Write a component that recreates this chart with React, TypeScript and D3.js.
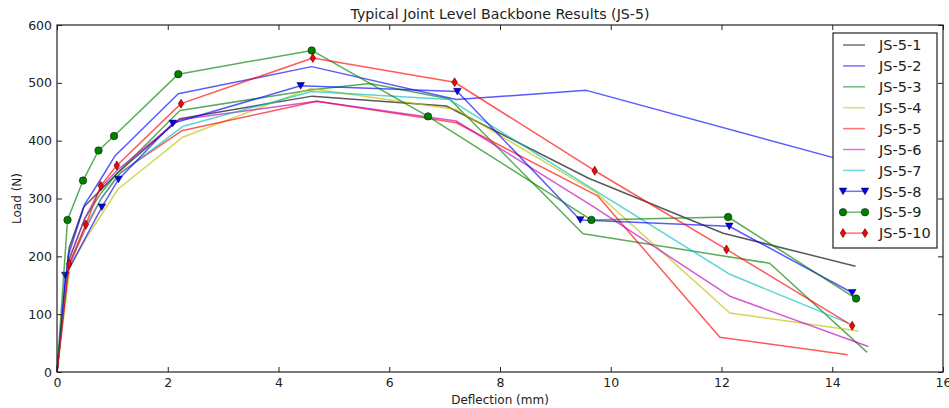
import React, { useEffect, useRef } from "react";
import * as d3 from "d3";

// deflection (mm) / load (N), one pair per specimen
const x1 = [0, 0.22, 0.48, 1.1, 2.22, 4.61, 7.03, 9.6, 12.03, 14.42];
const y1 = [0, 215, 285, 345, 438, 477, 460, 335, 240, 183];
const x2 = [0, 0.2, 0.5, 0.8, 1.05, 2.19, 4.6, 7.21, 9.56, 14.35];
const y2 = [0, 200, 290, 335, 374, 481, 528, 471, 487, 362];
const x3 = [0, 0.2, 0.5, 0.8, 1.1, 2.22, 4.61, 5.65, 7.09, 9.5, 12.87, 14.63];
const y3 = [0, 190, 265, 310, 345, 452, 488, 499, 472, 239, 188, 34];
const x4 = [0, 0.23, 0.53, 1.1, 2.27, 4.57, 7.21, 9.74, 12.15, 14.47];
const y4 = [0, 180, 232, 316, 406, 490, 454, 310, 102, 71];
const x5 = [0, 0.2, 0.5, 0.8, 1.15, 2.25, 4.69, 7.21, 9.77, 11.97, 14.28];
const y5 = [0, 180, 245, 300, 345, 417, 468, 431, 304, 60, 30];
const x6 = [0, 0.2, 0.5, 0.8, 1.1, 2.2, 4.69, 7.21, 9.7, 12.15, 14.65];
const y6 = [0, 190, 265, 320, 350, 436, 468, 434, 285, 131, 44];
const x7 = [0, 0.2, 0.5, 0.8, 1.1, 2.28, 4.6, 7.09, 9.7, 12.15, 14.28];
const y7 = [0, 180, 250, 300, 340, 425, 485, 471, 315, 169, 85];
const x8 = [0, 0.15, 0.81, 1.11, 2.09, 4.4, 7.23, 9.45, 12.14, 14.36];
const y8 = [0, 167, 285, 333, 430, 495, 485, 263, 252, 137];
const x9 = [0, 0.19, 0.47, 0.75, 1.03, 2.19, 4.6, 6.7, 9.65, 12.12, 14.43];
const y9 = [0, 263, 331, 383, 408, 515, 556, 442, 263, 268, 127];
const x10 = [0, 0.22, 0.52, 0.79, 1.08, 2.24, 4.62, 7.18, 9.71, 12.09, 14.36];
const y10 = [0, 187, 255, 322, 357, 464, 543, 501, 348, 212, 80];

const names = ["JS-5-1", "JS-5-2", "JS-5-3", "JS-5-4", "JS-5-5", "JS-5-6", "JS-5-7", "JS-5-8", "JS-5-9", "JS-5-10"];
const xs = [x1, x2, x3, x4, x5, x6, x7, x8, x9, x10];
const ys = [y1, y2, y3, y4, y5, y6, y7, y8, y9, y10];
const colors = ["#000000", "#0000ff", "#008000", "#bfbf00", "#ff0000", "#bf00bf", "#00bfbf", "#0000ff", "#008000", "#ff0000"];
const markers = [null, null, null, null, null, null, null, "tri", "circle", "diamond"];

const xTicks = [0, 2, 4, 6, 8, 10, 12, 14, 16];
const yTicks = [0, 100, 200, 300, 400, 500, 600];

const W = 949, H = 408;
const margin = { top: 25, right: 6, bottom: 36, left: 57 };
const FONT = "'DejaVu Sans', sans-serif";

function markerPath(kind) {
  if (kind === "tri") return "M-3.8,-3.2L3.8,-3.2L0,3.4Z";
  if (kind === "diamond") return "M0,-4.5L2.8,0L0,4.5L-2.8,0Z";
  return d3.symbol(d3.symbolCircle, 44)();
}

function drawMarker(g, kind, color, cx, cy) {
  g.append("path")
    .attr("d", markerPath(kind))
    .attr("transform", `translate(${cx},${cy})`)
    .attr("fill", color)
    .attr("stroke", "#000")
    .attr("stroke-width", 0.5);
}

const App = () => {
  const ref = useRef(null);

  useEffect(() => {
    const svg = d3.select(ref.current);
    svg.selectAll("*").remove();
    const width = W - margin.left - margin.right;
    const height = H - margin.top - margin.bottom;

    const xScale = d3.scaleLinear().domain([0, 16]).range([0, width]);
    const yScale = d3.scaleLinear().domain([0, 600]).range([height, 0]);

    const g = svg.append("g").attr("transform", `translate(${margin.left},${margin.top})`);

    g.append("rect").attr("width", width).attr("height", height).attr("fill", "#fff");

    const line = d3.line().x(d => xScale(d[0])).y(d => yScale(d[1]));

    names.forEach((n, i) => {
      const pts = xs[i].map((x, j) => [x, ys[i][j]]);
      g.append("path")
        .attr("d", line(pts))
        .attr("fill", "none")
        .attr("stroke", colors[i])
        .attr("stroke-opacity", 0.65)
        .attr("stroke-width", 1.5)
        .attr("stroke-linejoin", "round");
      if (markers[i]) {
        pts.slice(1).forEach(p => drawMarker(g, markers[i], colors[i], xScale(p[0]), yScale(p[1])));
      }
    });

    // axes, inward ticks on all four sides
    const styleAxis = (a) => {
      a.select(".domain").remove();
      a.selectAll("line").attr("stroke", "#222");
      a.selectAll("text").attr("fill", "#222").style("font-family", FONT).style("font-size", "12.5px");
    };
    g.append("g").attr("transform", `translate(0,${height})`)
      .call(d3.axisBottom(xScale).tickValues(xTicks).tickSize(-5).tickPadding(6).tickFormat(d3.format("d")))
      .call(styleAxis);
    g.append("g")
      .call(d3.axisLeft(yScale).tickValues(yTicks).tickSize(-5).tickPadding(5).tickFormat(d3.format("d")))
      .call(styleAxis);
    g.append("g")
      .call(d3.axisTop(xScale).tickValues(xTicks).tickSize(-5).tickFormat(() => ""))
      .call(styleAxis);
    g.append("g").attr("transform", `translate(${width},0)`)
      .call(d3.axisRight(yScale).tickValues(yTicks).tickSize(-5).tickFormat(() => ""))
      .call(styleAxis);

    g.append("rect").attr("width", width).attr("height", height)
      .attr("fill", "none").attr("stroke", "#222").attr("stroke-width", 1.2);

    // labels
    svg.append("text").attr("x", margin.left + width / 2).attr("y", 19)
      .attr("text-anchor", "middle").attr("fill", "#222")
      .style("font-family", FONT).style("font-size", "14.2px")
      .text("Typical Joint Level Backbone Results (JS-5)");
    svg.append("text").attr("x", margin.left + width / 2).attr("y", 404)
      .attr("text-anchor", "middle").attr("fill", "#222")
      .style("font-family", FONT).style("font-size", "12px")
      .text("Deflection (mm)");
    svg.append("text").attr("transform", `translate(21,${margin.top + height / 2}) rotate(-90)`)
      .attr("text-anchor", "middle").attr("fill", "#222")
      .style("font-family", FONT).style("font-size", "12px")
      .text("Load (N)");

    // legend
    const lg = svg.append("g").attr("transform", "translate(833,33)");
    lg.append("rect").attr("width", 104).attr("height", 215)
      .attr("fill", "#fff").attr("stroke", "#222").attr("stroke-width", 1.2);
    names.forEach((n, i) => {
      const yy = 12 + i * 20.9;
      lg.append("line").attr("x1", 10).attr("x2", 32).attr("y1", yy).attr("y2", yy)
        .attr("stroke", colors[i]).attr("stroke-opacity", 0.55).attr("stroke-width", 1.5);
      if (markers[i]) {
        drawMarker(lg, markers[i], colors[i], 10, yy);
        drawMarker(lg, markers[i], colors[i], 32, yy);
      }
      lg.append("text").attr("x", 46).attr("y", yy + 5.2)
        .attr("fill", "#222").style("font-family", FONT).style("font-size", "14.5px")
        .text(n);
    });
  }, []);

  return (
    <div style={{ position: "absolute", left: 0, top: 0 }}>
      <svg ref={ref} width={W} height={H} style={{ display: "block", background: "#fff" }} />
    </div>
  );
};

export default App;
